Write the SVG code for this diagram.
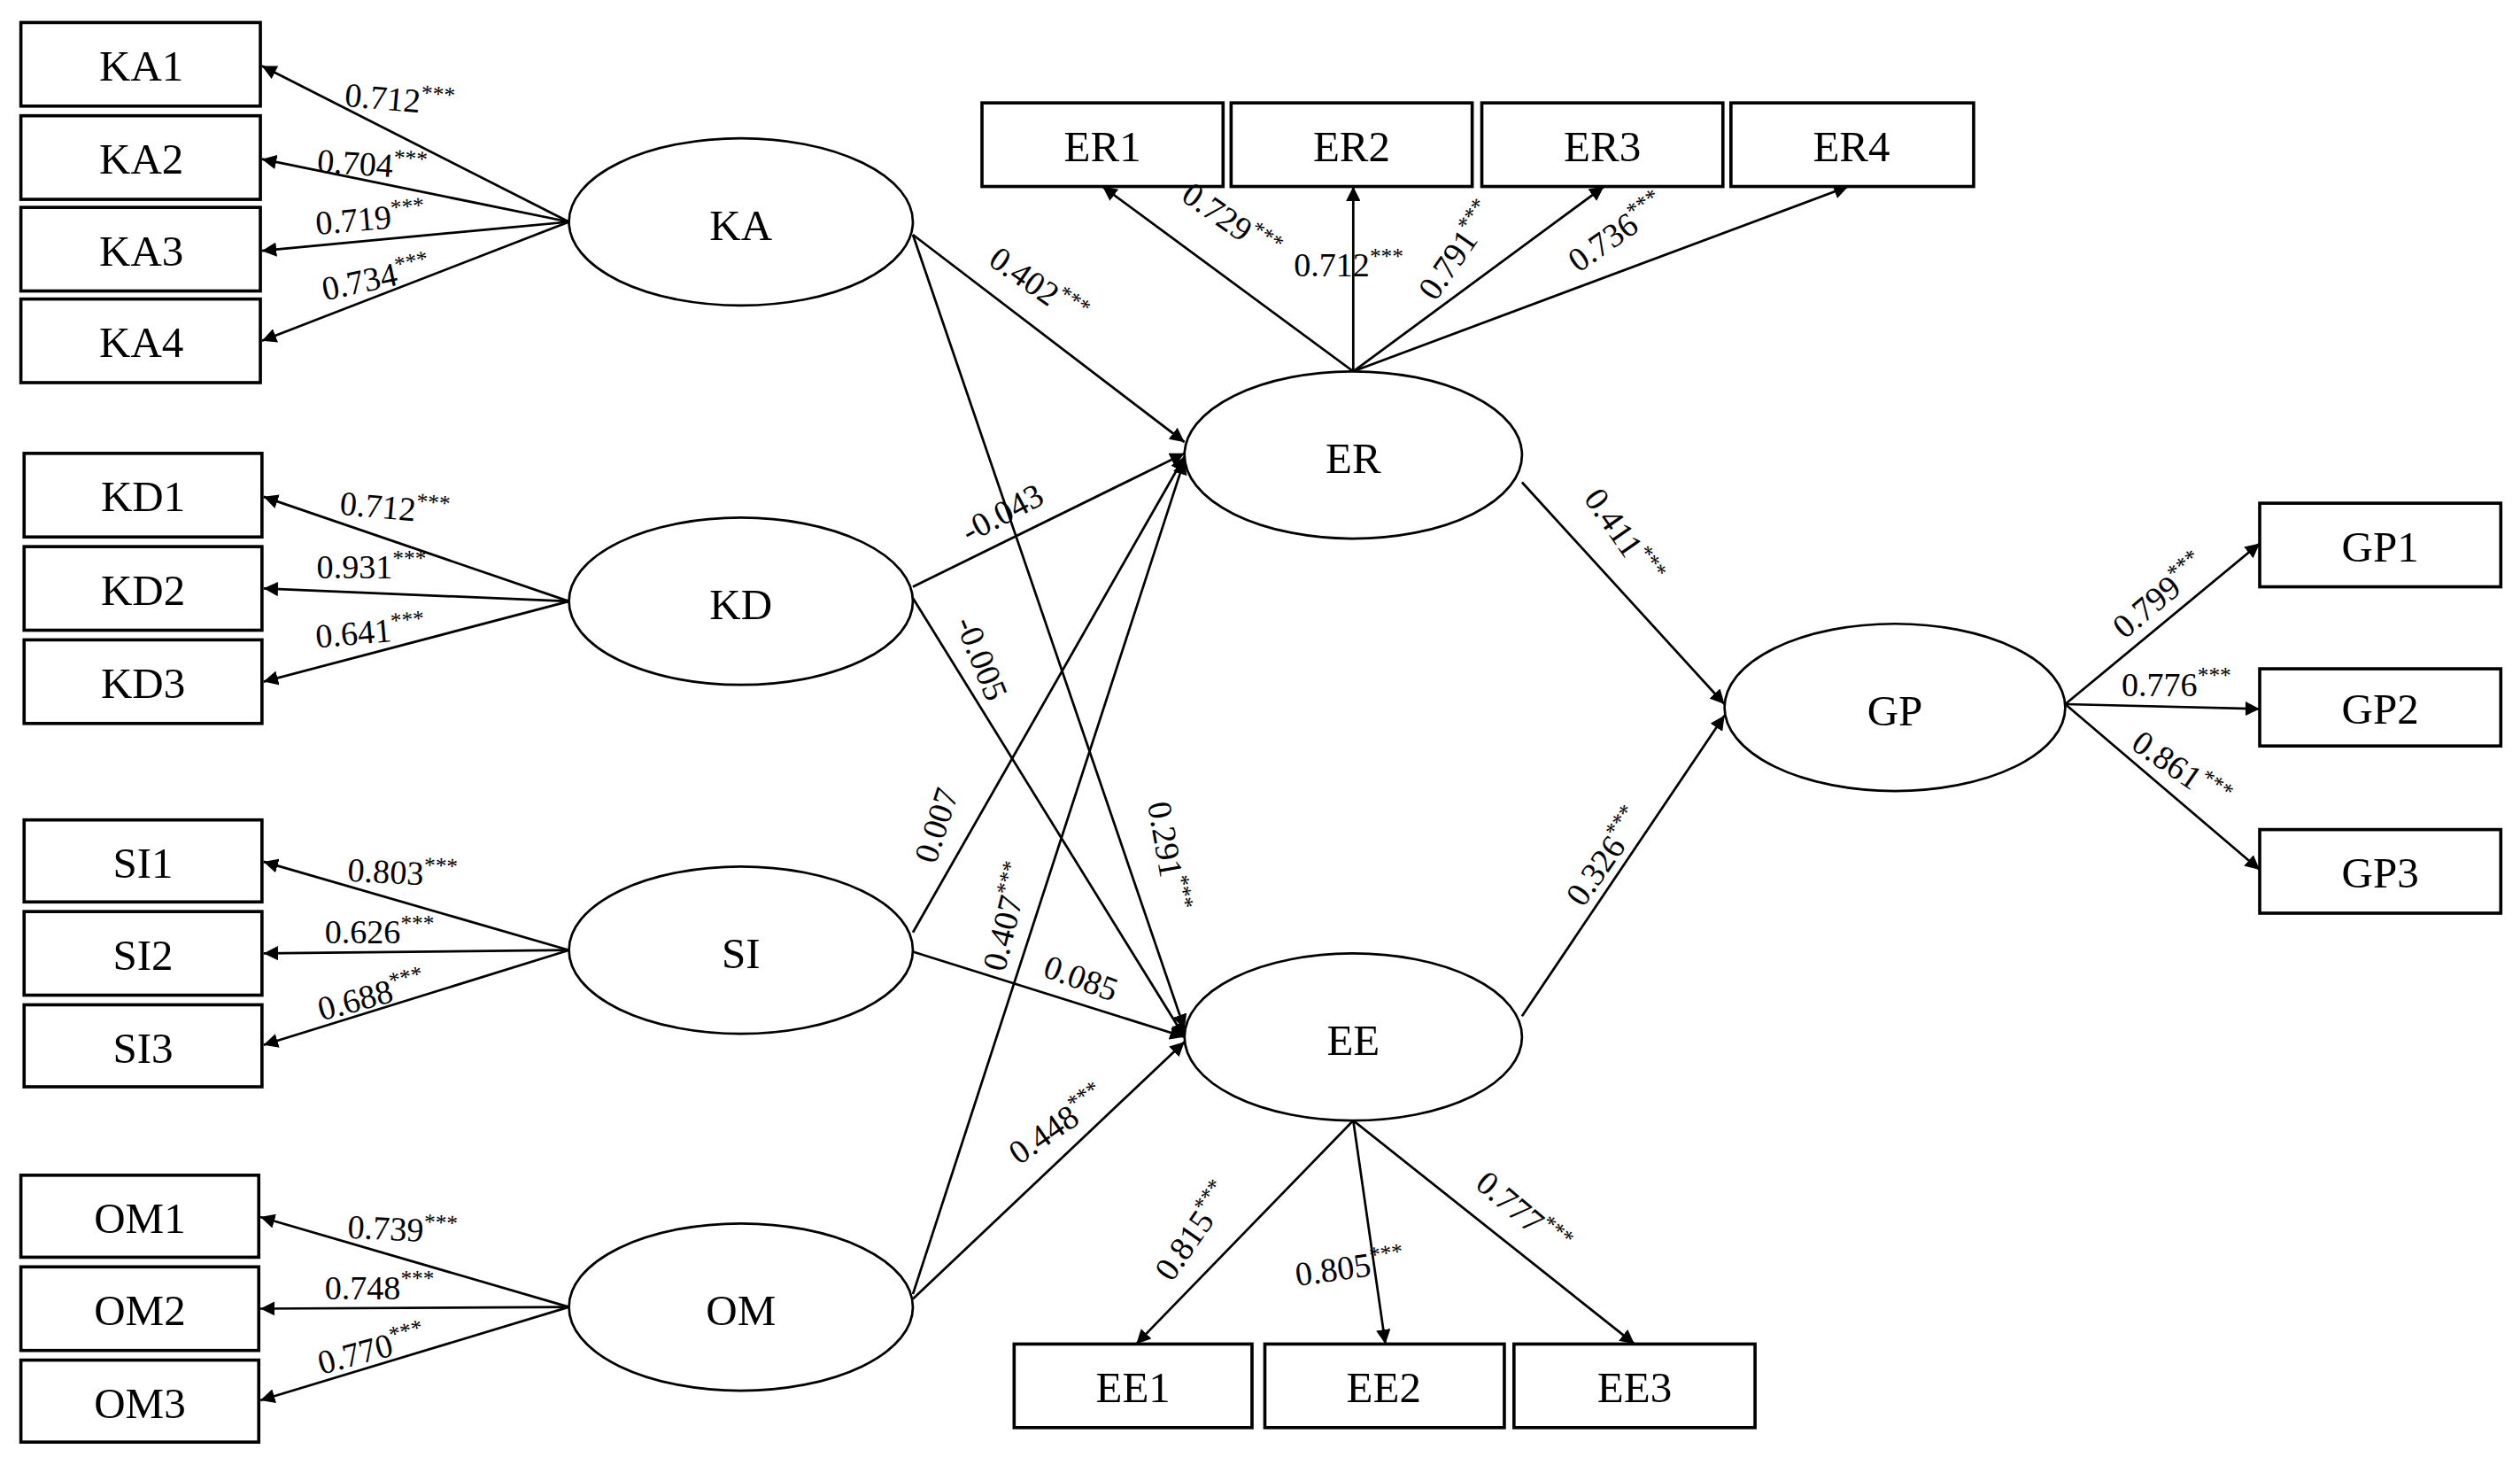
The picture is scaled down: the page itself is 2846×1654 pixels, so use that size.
<svg xmlns="http://www.w3.org/2000/svg" width="2846" height="1654" viewBox="0 0 2846 1654">
<style>
.box{fill:#fff;stroke:#000;stroke-width:2}
.ell{fill:#fff;stroke:#000;stroke-width:1.5}
.n{font-family:"Liberation Serif",serif;font-size:27px;text-anchor:middle;dominant-baseline:central}
.l{font-family:"Liberation Serif",serif;font-size:21px}
.s{font-size:14px}
.c line{stroke:#000;stroke-width:1.5;marker-end:url(#a)}
</style>
<defs><marker id="a" viewBox="0 0 10 10" refX="10" refY="5" markerWidth="9" markerHeight="9" markerUnits="userSpaceOnUse" orient="auto"><path d="M0,0L10,5L0,10z"/></marker></defs>
<rect width="2846" height="1654" fill="#fff"/>
<g transform="scale(1.8151)">
<g class="c">
<line x1="354" y1="138" x2="163" y2="41"/><line x1="354" y1="138" x2="163" y2="99"/><line x1="354" y1="138" x2="163" y2="156"/><line x1="354" y1="138" x2="163" y2="212"/>
<line x1="354" y1="374" x2="164" y2="309"/><line x1="354" y1="374" x2="164" y2="366"/><line x1="354" y1="374" x2="164" y2="424"/>
<line x1="354" y1="591" x2="164" y2="536"/><line x1="354" y1="591" x2="164" y2="593"/><line x1="354" y1="591" x2="164" y2="650"/>
<line x1="354" y1="813" x2="162" y2="757"/><line x1="354" y1="813" x2="162" y2="814"/><line x1="354" y1="813" x2="162" y2="871"/>
<line x1="842" y1="231" x2="686" y2="116"/><line x1="842" y1="231" x2="842" y2="116"/><line x1="842" y1="231" x2="998" y2="116"/><line x1="842" y1="231" x2="1150" y2="116"/>
<line x1="842" y1="697" x2="707" y2="836"/><line x1="842" y1="697" x2="862" y2="836"/><line x1="842" y1="697" x2="1017" y2="836"/>
<line x1="1285" y1="438" x2="1406" y2="338"/><line x1="1285" y1="438" x2="1406" y2="441"/><line x1="1285" y1="438" x2="1406" y2="541"/>
<line x1="568" y1="146" x2="737" y2="275"/><line x1="568" y1="146" x2="737" y2="640"/>
<line x1="568" y1="365" x2="737" y2="282"/><line x1="568" y1="372" x2="737" y2="645"/>
<line x1="568" y1="580" x2="737" y2="284"/><line x1="568" y1="592" x2="737" y2="645"/>
<line x1="568" y1="805" x2="737" y2="286"/><line x1="568" y1="808" x2="737" y2="648"/>
<line x1="947" y1="300" x2="1073" y2="438"/><line x1="947" y1="632" x2="1073" y2="445"/>
</g>
<g id="KA1"><rect class="box" x="13" y="14" width="149" height="52"/><text class="n" x="88" y="41">KA1</text></g>
<g id="KA2"><rect class="box" x="13" y="72" width="149" height="52"/><text class="n" x="88" y="99">KA2</text></g>
<g id="KA3"><rect class="box" x="13" y="129" width="149" height="52"/><text class="n" x="88" y="156">KA3</text></g>
<g id="KA4"><rect class="box" x="13" y="186" width="149" height="52"/><text class="n" x="88" y="213">KA4</text></g>
<g id="KD1"><rect class="box" x="15" y="282" width="148" height="52"/><text class="n" x="89" y="309">KD1</text></g>
<g id="KD2"><rect class="box" x="15" y="340" width="148" height="52"/><text class="n" x="89" y="367">KD2</text></g>
<g id="KD3"><rect class="box" x="15" y="398" width="148" height="52"/><text class="n" x="89" y="425">KD3</text></g>
<g id="SI1"><rect class="box" x="15" y="510" width="148" height="51"/><text class="n" x="89" y="537">SI1</text></g>
<g id="SI2"><rect class="box" x="15" y="567" width="148" height="52"/><text class="n" x="89" y="594">SI2</text></g>
<g id="SI3"><rect class="box" x="15" y="625" width="148" height="51"/><text class="n" x="89" y="652">SI3</text></g>
<g id="OM1"><rect class="box" x="13" y="731" width="148" height="51"/><text class="n" x="87" y="758">OM1</text></g>
<g id="OM2"><rect class="box" x="13" y="788" width="148" height="52"/><text class="n" x="87" y="815">OM2</text></g>
<g id="OM3"><rect class="box" x="13" y="846" width="148" height="51"/><text class="n" x="87" y="873">OM3</text></g>
<g id="ER1"><rect class="box" x="611" y="64" width="150" height="52"/><text class="n" x="686" y="91">ER1</text></g>
<g id="ER2"><rect class="box" x="766" y="64" width="150" height="52"/><text class="n" x="841" y="91">ER2</text></g>
<g id="ER3"><rect class="box" x="922" y="64" width="150" height="52"/><text class="n" x="997" y="91">ER3</text></g>
<g id="ER4"><rect class="box" x="1077" y="64" width="151" height="52"/><text class="n" x="1152" y="91">ER4</text></g>
<g id="EE1"><rect class="box" x="631" y="836" width="148" height="52"/><text class="n" x="705" y="863">EE1</text></g>
<g id="EE2"><rect class="box" x="787" y="836" width="149" height="52"/><text class="n" x="861" y="863">EE2</text></g>
<g id="EE3"><rect class="box" x="942" y="836" width="150" height="52"/><text class="n" x="1017" y="863">EE3</text></g>
<g id="GP1"><rect class="box" x="1406" y="313" width="150" height="52"/><text class="n" x="1481" y="340">GP1</text></g>
<g id="GP2"><rect class="box" x="1406" y="416" width="150" height="48"/><text class="n" x="1481" y="441">GP2</text></g>
<g id="GP3"><rect class="box" x="1406" y="516" width="150" height="52"/><text class="n" x="1481" y="543">GP3</text></g>
<g id="KA"><ellipse class="ell" cx="461" cy="138" rx="107" ry="52"/><text class="n" x="461" y="140" font-size="30">KA</text></g>
<g id="KD"><ellipse class="ell" cx="461" cy="374" rx="107" ry="52"/><text class="n" x="461" y="376">KD</text></g>
<g id="SI"><ellipse class="ell" cx="461" cy="591" rx="107" ry="52"/><text class="n" x="461" y="593" font-size="30">SI</text></g>
<g id="OM"><ellipse class="ell" cx="461" cy="813" rx="107" ry="52"/><text class="n" x="461" y="815" font-size="30">OM</text></g>
<g id="ER"><ellipse class="ell" cx="842" cy="283" rx="105" ry="52"/><text class="n" x="842" y="285" font-size="30">ER</text></g>
<g id="EE"><ellipse class="ell" cx="842" cy="645" rx="105" ry="52"/><text class="n" x="842" y="647" font-size="30">EE</text></g>
<g id="GP"><ellipse class="ell" cx="1179" cy="440" rx="106" ry="52"/><text class="n" x="1179" y="442" font-size="30">GP</text></g>
<g class="l">
<text transform="translate(214,66) rotate(5)">0.712<tspan class="s" dy="-8">***</tspan></text>
<text transform="translate(197,107) rotate(4)">0.704<tspan class="s" dy="-8">***</tspan></text>
<text transform="translate(197,146) rotate(-5)">0.719<tspan class="s" dy="-8">***</tspan></text>
<text transform="translate(202,187) rotate(-12)">0.734<tspan class="s" dy="-8">***</tspan></text>
<text transform="translate(211,320) rotate(5)">0.712<tspan class="s" dy="-8">***</tspan></text>
<text transform="translate(197,360)">0.931<tspan class="s" dy="-8">***</tspan></text>
<text transform="translate(197,403) rotate(-5)">0.641<tspan class="s" dy="-8">***</tspan></text>
<text transform="translate(216,548) rotate(3)">0.803<tspan class="s" dy="-8">***</tspan></text>
<text transform="translate(202,587)">0.626<tspan class="s" dy="-8">***</tspan></text>
<text transform="translate(200,635) rotate(-15)">0.688<tspan class="s" dy="-8">***</tspan></text>
<text transform="translate(216,770) rotate(3)">0.739<tspan class="s" dy="-8">***</tspan></text>
<text transform="translate(202,808)">0.748<tspan class="s" dy="-8">***</tspan></text>
<text transform="translate(200,855) rotate(-15)">0.770<tspan class="s" dy="-8">***</tspan></text>
<text transform="translate(734,124) rotate(35)">0.729<tspan class="s" dy="-8">***</tspan></text>
<text transform="translate(805,172)">0.712<tspan class="s" dy="-8">***</tspan></text>
<text transform="translate(893,188) rotate(-55)">0.791<tspan class="s" dy="-8">***</tspan></text>
<text transform="translate(982,170) rotate(-35)">0.736<tspan class="s" dy="-8">***</tspan></text>
<text transform="translate(614,164) rotate(35)">0.402<tspan class="s" dy="-8">***</tspan></text>
<text transform="translate(603,338) rotate(-28)">-0.043</text>
<text transform="translate(594,387) rotate(68)">-0.005</text>
<text transform="translate(582,538) rotate(-72)">0.007</text>
<text transform="translate(625,605) rotate(-76)">0.407<tspan class="s" dy="-8">***</tspan></text>
<text transform="translate(714,500) rotate(80)">0.291<tspan class="s" dy="-8">***</tspan></text>
<text transform="translate(648,607) rotate(20)">0.085</text>
<text transform="translate(634,725) rotate(-35)">0.448<tspan class="s" dy="-8">***</tspan></text>
<text transform="translate(985,310) rotate(55)">0.411<tspan class="s" dy="-8">***</tspan></text>
<text transform="translate(985,565) rotate(-55)">0.326<tspan class="s" dy="-8">***</tspan></text>
<text transform="translate(729,798) rotate(-55)">0.815<tspan class="s" dy="-8">***</tspan></text>
<text transform="translate(807,800) rotate(-8)">0.805<tspan class="s" dy="-8">***</tspan></text>
<text transform="translate(917,738) rotate(40)">0.777<tspan class="s" dy="-8">***</tspan></text>
<text transform="translate(1322,398) rotate(-40)">0.799<tspan class="s" dy="-8">***</tspan></text>
<text transform="translate(1320,433)">0.776<tspan class="s" dy="-8">***</tspan></text>
<text transform="translate(1325,465) rotate(35)">0.861<tspan class="s" dy="-8">***</tspan></text>
</g>
</g>
</svg>
